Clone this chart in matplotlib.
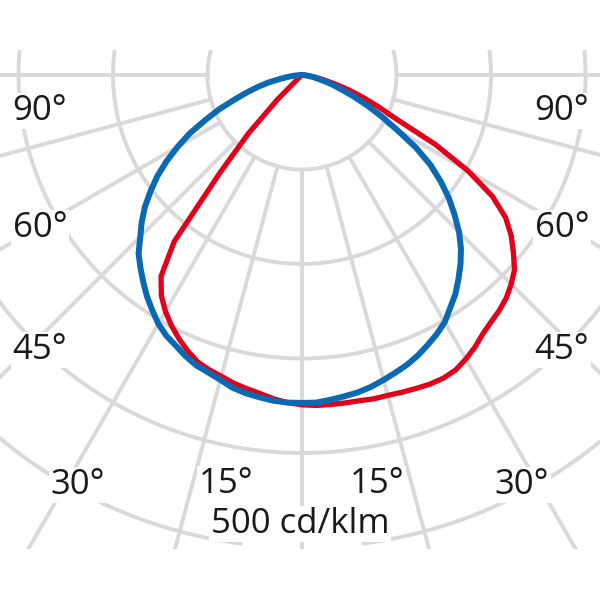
import numpy as np
import matplotlib.pyplot as plt

# polar light distribution, values in cd/klm, angle from nadir in degrees
angles = [0, 2.5, 5, 7.5, 10, 12.5, 15, 17.5, 20, 22.5, 25, 27.5, 30, 32.5,
          35, 37.5, 40, 42.5, 45, 47.5, 50, 52.5, 55, 57.5, 60, 62.5, 65,
          67.5, 70, 72.5, 75, 77.5, 80, 82.5, 85, 87.5, 90]

blue_left = [347, 347, 346, 344, 342, 339, 334, 330, 327, 322, 316, 311, 304,
             295, 286, 276, 266, 256, 242, 230, 217, 202, 187, 170, 152, 134,
             113, 95, 76, 61, 48, 36, 23, 15, 8, 3, 0]
blue_right = [347, 347, 345, 343, 341, 338, 334, 330, 326, 321, 315, 309, 302,
              292, 283, 272, 261, 249, 235, 219, 203, 185, 166, 143, 116, 95,
              76, 59, 44, 34, 23, 16, 11, 6, 3, 1, 0]
red_left = [349, 347, 344, 340, 337, 334, 330, 327, 323, 316, 308, 299, 289,
            277, 260, 222, 135, 84, 37, 5, 0, 0, 0, 0, 0, 0, 0, 0, 0, 0, 0,
            0, 0, 0, 0, 0, 0]
red_right = [351, 350, 350, 350, 350, 351, 351, 352, 353, 354, 354, 352, 347,
             341, 334, 329, 325, 320, 313, 305, 292, 279, 263, 239, 203, 159,
             110, 87, 68, 51, 35, 23, 15, 8, 4, 2, 0]

rings = [100, 200, 300, 400, 500]
spokes = [-90, -75, -60, -45, -30, -15, 0, 15, 30, 45, 60, 75, 90]
left_labels = ["90°", "60°", "45°", "30°", "15°"]
right_labels = ["15°", "30°", "45°", "60°", "90°"]
scale_label = "500 cd/klm"

grid_col = "#d9d9d9"
blue = "#0a69b3"
red = "#e2001a"

fig = plt.figure(figsize=(6, 6), dpi=100)
# 0.945 px per cd/klm, centre of diagram at pixel (302, 75)
k = 0.945
ax = fig.add_axes([0, 51 / 600, 1, 499 / 600])
ax.set_xlim(-302 / k, 298 / k)
ax.set_ylim((75 - 549) / k, (75 - 50) / k)
ax.axis("off")


def xy(theta_deg, r):
    t = np.radians(theta_deg)
    r = np.asarray(r, dtype=float)
    return r * np.sin(t), -r * np.cos(t)


full = np.linspace(-180, 180, 721)
for r in rings:
    th = full
    if r == rings[-1]:
        # the outer ring is left open behind the scale label
        th = full[np.abs(full) > 7.3]
        for part in (th[th < 0], th[th > 0]):
            x, y = xy(part, r * np.ones_like(part))
            ax.plot(x, y, color=grid_col, lw=2.8, zorder=1)
        continue
    x, y = xy(th, r * np.ones_like(th))
    ax.plot(x, y, color=grid_col, lw=2.8, zorder=1)

for a in spokes:
    x, y = xy([a, a], [rings[0], 800])
    ax.plot(x, y, color=grid_col, lw=2.8, zorder=1)


def curve(left, right):
    a = np.array(angles)
    th = np.concatenate([-a[::-1], a[1:]])
    r = np.concatenate([np.array(left)[::-1], np.array(right)[1:]])
    return xy(th, r)


x, y = curve(red_left, red_right)
ax.plot(x, y, color=red, lw=3.8, zorder=3, solid_capstyle="round",
        solid_joinstyle="round")
x, y = curve(blue_left, blue_right)
ax.plot(x, y, color=blue, lw=4.3, zorder=4, solid_capstyle="round",
        solid_joinstyle="round")

txt = dict(fontsize=25, family="Open Sans", color="#1a1a1a",
           ha="center", va="center",
           bbox=dict(facecolor="white", edgecolor="none", pad=1))

left_pos = [(40, 111), (40, 228), (40, 350), (78, 485), (226, 484)]
right_pos = [(377, 484), (522, 485), (562, 350), (562, 228), (562, 111)]
for lab, (px, py) in zip(left_labels, left_pos):
    fig.text(px / 600, 1 - py / 600, lab, **txt)
for lab, (px, py) in zip(right_labels, right_pos):
    fig.text(px / 600, 1 - py / 600, lab, **txt)
fig.text(300 / 600, 1 - 524 / 600, scale_label, **txt)

fig.savefig("out.png", dpi=100, facecolor="white")
